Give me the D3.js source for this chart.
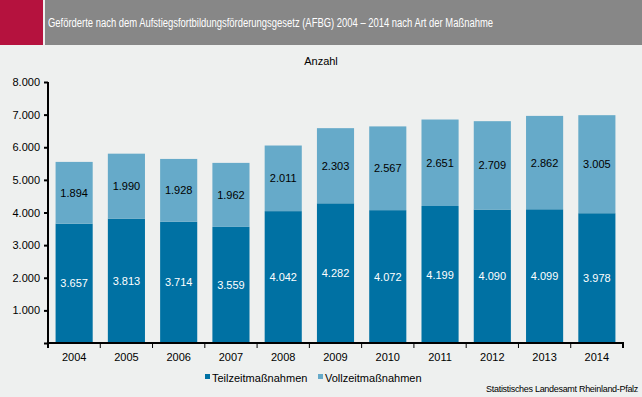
<!DOCTYPE html>
<meta charset="utf-8">
<script src="https://d3js.org/d3.v7.min.js"></script>
<style>
  body { margin: 0; background: #eef0ef; }
  text { font-family: "Liberation Sans", Arial, sans-serif; }
</style>
<div id="chart"></div>
<script>
  // data
  var years = ["2004", "2005", "2006", "2007", "2008", "2009", "2010", "2011", "2012", "2013", "2014"];
  var teilzeit = [3657, 3813, 3714, 3559, 4042, 4282, 4072, 4199, 4090, 4099, 3978];
  var vollzeit = [1894, 1990, 1928, 1962, 2011, 2303, 2567, 2651, 2709, 2862, 3005];
  var seriesNames = ["Teilzeitmaßnahmen", "Vollzeitmaßnahmen"];
  var yTicks = [0, 1000, 2000, 3000, 4000, 5000, 6000, 7000, 8000];

  var colors = ["#0071a3", "#66aac9"];
  var fmt = d3.format(",d");
  function de(v) { return fmt(v).replace(/,/g, "."); }

  var W = 642, H = 397;
  var margin = {top: 82, right: 19, bottom: 54, left: 48},
      width = W - margin.left - margin.right,
      height = H - margin.top - margin.bottom;

  var root = d3.select("#chart").append("svg")
      .attr("width", W)
      .attr("height", H);

  root.append("rect").attr("width", W).attr("height", H).attr("fill", "#eef0ef");

  // title bar
  root.append("rect").attr("x", 0).attr("y", 0).attr("width", 43).attr("height", 45).attr("fill", "#b5123e");
  root.append("rect").attr("x", 45).attr("y", 0).attr("width", W - 45).attr("height", 45).attr("fill", "#878787");
  root.append("text")
    .attr("x", 48).attr("y", 27)
    .attr("fill", "#fff")
    .attr("textLength", 445)
    .attr("lengthAdjust", "spacingAndGlyphs")
    .style("font-size", "12px")
    .text("Geförderte nach dem Aufstiegsfortbildungsförderungsgesetz (AFBG) 2004 – 2014 nach Art der Maßnahme");

  var svg = root.append("g")
      .attr("transform", "translate(" + margin.left + "," + margin.top + ")");

  var rows = years.map(function(y, i) { return {year: y, t: teilzeit[i], v: vollzeit[i]}; });

  var x = d3.scaleBand().domain(years).range([0, width]).paddingInner(0.29).paddingOuter(0.145);
  var xTicks = d3.scaleBand().domain(years).range([0, width]);
  var y = d3.scaleLinear().domain([0, 8000]).range([height, 0]);

  // bars
  var g = svg.selectAll(".yr").data(rows).enter().append("g");
  g.append("rect")
    .attr("x", function(d) { return x(d.year); })
    .attr("width", x.bandwidth())
    .attr("y", function(d) { return y(d.t); })
    .attr("height", function(d) { return y(0) - y(d.t); })
    .attr("fill", colors[0]);
  g.append("rect")
    .attr("x", function(d) { return x(d.year); })
    .attr("width", x.bandwidth())
    .attr("y", function(d) { return y(d.t + d.v); })
    .attr("height", function(d) { return y(d.t) - y(d.t + d.v); })
    .attr("fill", colors[1]);

  // value labels
  g.append("text")
    .attr("x", function(d) { return x(d.year) + x.bandwidth() / 2; })
    .attr("y", function(d) { return y(d.t / 2) + 4; })
    .attr("text-anchor", "middle")
    .attr("fill", "#fff")
    .style("font-size", "11px")
    .text(function(d) { return de(d.t); });
  g.append("text")
    .attr("x", function(d) { return x(d.year) + x.bandwidth() / 2; })
    .attr("y", function(d) { return y(d.t + d.v / 2) + 4; })
    .attr("text-anchor", "middle")
    .attr("fill", "#000")
    .style("font-size", "11px")
    .text(function(d) { return de(d.v); });

  // y axis
  var yAxis = svg.append("g")
    .call(d3.axisLeft(y).tickValues(yTicks).tickSize(4).tickPadding(4).tickFormat(function(d) { return d === 0 ? "" : de(d); }));
  yAxis.select(".domain").attr("stroke", "#000").attr("stroke-width", 2).attr("d", "M0,0V" + (height + 1));
  yAxis.selectAll(".tick line").attr("stroke-width", 2);
  yAxis.selectAll("text").style("font-size", "11px").attr("fill", "#000").style("font-family", "Liberation Sans, Arial, sans-serif");

  // x axis
  var xAxis = svg.append("g")
    .attr("transform", "translate(0," + height + ")");
  xAxis.append("line").attr("x1", -1).attr("x2", width + 1).attr("stroke", "#000").attr("stroke-width", 2);
  xAxis.selectAll(".xt").data(years.concat(["end"])).enter().append("line")
    .attr("x1", function(d, i) { return i < years.length ? xTicks(d) : width; })
    .attr("x2", function(d, i) { return i < years.length ? xTicks(d) : width; })
    .attr("y1", 0).attr("y2", 5)
    .attr("stroke", "#000").attr("stroke-width", function(d, i) { return (i === 0 || i === years.length) ? 2 : 1; });
  xAxis.selectAll(".xl").data(years).enter().append("text")
    .attr("x", function(d) { return x(d) + x.bandwidth() / 2; })
    .attr("y", 18)
    .attr("text-anchor", "middle")
    .style("font-size", "11px")
    .text(function(d) { return d; });

  // axis title
  root.append("text")
    .attr("x", 321).attr("y", 65)
    .attr("text-anchor", "middle")
    .style("font-size", "11px")
    .text("Anzahl");

  // legend
  var legX = [205, 318];
  seriesNames.forEach(function(s, i) {
    root.append("rect").attr("x", legX[i]).attr("y", 374).attr("width", 5).attr("height", 5).attr("fill", colors[i]);
    root.append("text").attr("x", legX[i] + 7).attr("y", 382).style("font-size", "11px").text(s);
  });

  // source
  root.append("text")
    .attr("x", 638).attr("y", 392)
    .attr("text-anchor", "end")
    .style("font-size", "9px")
    .style("letter-spacing", "-0.3px")
    .text("Statistisches Landesamt Rheinland-Pfalz");
</script>
